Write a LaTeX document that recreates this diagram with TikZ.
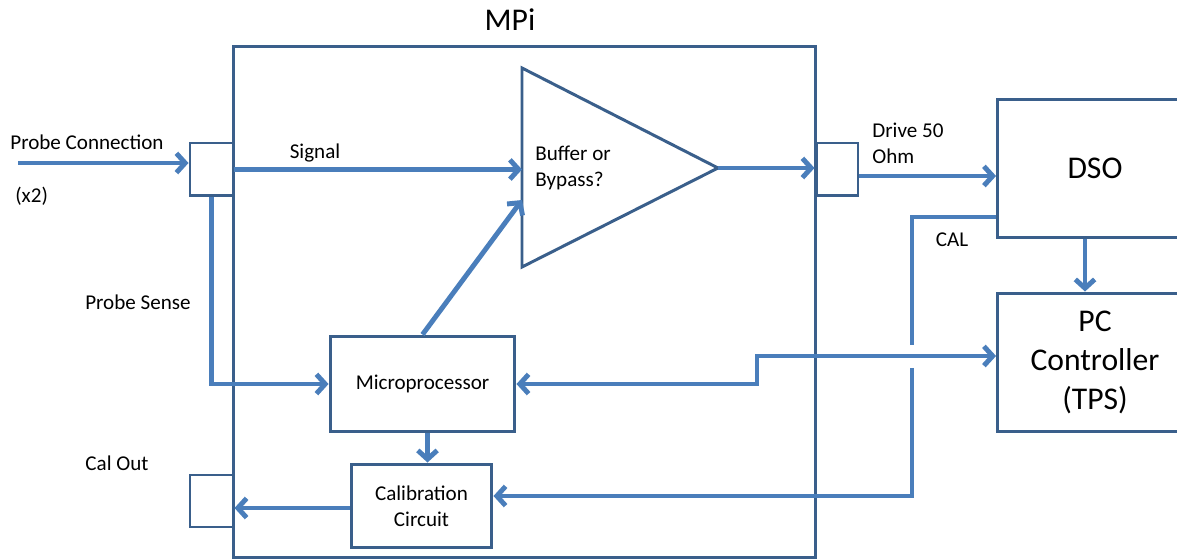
\documentclass[tikz,border=0pt]{standalone}
\usepackage{fontspec}
\setmainfont{Carlito}
\usepackage{tikz}
\usetikzlibrary{arrows.meta}
\usepackage{xcolor}
\definecolor{boxblue}{HTML}{3A5F8B}
\definecolor{arrblue}{HTML}{4A7EBB}

\begin{document}
\begin{tikzpicture}[x=0.02cm, y=-0.02cm,
    blk/.style={draw=boxblue, line width=1.7pt, inner sep=0pt, align=center},
    sig/.style={draw=arrblue, line width=2.8pt},
    tip/.style={-{Straight Barb[length=5pt, width=11pt]}},
    lbl/.style={font=\fontsize{12}{15}\selectfont, inner sep=0pt},
    big/.style={font=\fontsize{18}{22}\selectfont}]
    \useasboundingbox (0,0) rectangle (1177,560);
    \clip (0,0) rectangle (1177,560);

    % MPi enclosure and connectors
    \node[blk, minimum width=11.66cm, minimum height=10.24cm] (mpi) at (524.5,302) {};
    \node[big] (mpi-title) at (510,20) {MPi};
    \node[blk, minimum width=0.86cm, minimum height=1.06cm] (pin) at (211.5,169.5) {};
    \node[blk, minimum width=0.84cm, minimum height=1.06cm] (pout) at (837,169.5) {};
    \node[blk, minimum width=0.86cm, minimum height=1.04cm] (cout) at (211.5,501) {};

    % Buffer triangle
    \coordinate (tri-in) at (522,68);
    \coordinate (tri-low) at (522,267);
    \coordinate (tri-tip) at (718,168);
    \coordinate (tri-ctl) at (522,200);
    \draw[boxblue, line width=1.7pt, line join=miter] (tri-in) -- (tri-tip) -- (tri-low) -- cycle;
    \node[lbl, anchor=west, align=left] (buf) at (535,168) {Buffer or\\Bypass?};

    % Inner blocks
    \node[blk, lbl, minimum width=3.7cm, minimum height=1.92cm] (micro) at (422.5,384) {Microprocessor};
    \node[blk, lbl, minimum width=2.82cm, minimum height=1.68cm] (cal) at (421.5,506) {Calibration\\Circuit};

    % Outside instruments (cut by the right edge)
    \node[blk, big, minimum width=3.9cm, minimum height=2.78cm] (dso) at (1095,168.5) {DSO};
    \node[blk, big, minimum width=3.9cm, minimum height=2.78cm] (pc) at (1095,362.5) {PC\\Controller\\(TPS)};

    % Labels
    \node[lbl, anchor=west] (probe-lbl) at (10,142) {Probe Connection};
    \node[lbl, anchor=west] (x2-lbl) at (15,196) {(x2)};
    \node[lbl] (sig-lbl) at (315,153) {Signal};
    \node[lbl] (sense-lbl) at (138,302) {Probe Sense};
    \node[lbl] (calout-lbl) at (117,463) {Cal Out};
    \node[lbl, anchor=west, align=left] (drive-lbl) at (872,143) {Drive 50\\Ohm};
    \node[lbl] (cal-lbl) at (952,240) {CAL};

    % Signal path
    \coordinate (probe-src) at (18,163);
    \draw[sig, tip] (probe-src) -- (probe-src -| pin.west);
    \draw[sig, tip] (pin.east) -- (pin.east -| tri-in);
    \draw[sig, tip] (tri-tip) -- (tri-tip -| pout.west);
    \draw[sig, tip] ([yshift=-0.13cm]pout.east) -- ([yshift=-0.13cm]pout.east -| dso.west);
    \draw[sig, tip] ([xshift=-0.2cm]dso.south) -- ([xshift=-0.2cm]pc.north);

    % Control and calibration
    \draw[sig, tip] (micro.north) -- (tri-ctl);
    \draw[sig, tip] (pin.south) |- (micro.west);
    \coordinate (jog) at (757,356);
    \draw[sig, {Straight Barb[length=5pt, width=11pt]}-{Straight Barb[length=5pt, width=11pt]}]
        (micro.east) -| (jog) -- (jog -| pc.west);
    \draw[sig, tip] ([xshift=0.1cm]micro.south) -- ([xshift=0.1cm]micro.south |- cal.north);
    \draw[sig, tip] ([yshift=-0.04cm]cal.west) -- ([yshift=-0.04cm]cal.west -| cout.east);

    % CAL feedback, broken where it crosses
    \coordinate (cal-top) at (912,217);
    \coordinate (gap-a) at (912,345);
    \coordinate (gap-b) at (912,368);
    \coordinate (cal-bend) at (912,496);
    \draw[sig] (cal-top -| dso.west) -- (cal-top) -- (gap-a);
    \draw[sig, tip] (gap-b) -- (cal-bend) -- (cal-bend -| cal.east);
\end{tikzpicture}
\end{document}
